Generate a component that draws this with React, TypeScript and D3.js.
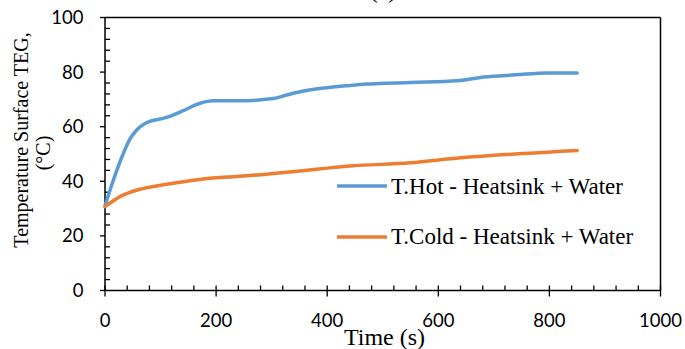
import React from "react";
import * as d3 from "d3";

const hotTime = [0, 15, 33, 45, 57, 72, 111, 141, 171, 195, 243, 303, 327, 351, 400, 441, 471, 550, 634, 682, 740, 796, 850];
const hotTemp = [31, 40.4, 50.2, 55.5, 58.8, 61.2, 63.4, 65.9, 68.6, 69.5, 69.5, 70.3, 71.6, 72.8, 74.3, 75.1, 75.6, 76.2, 76.8, 78.2, 79.0, 79.7, 79.7];
const coldTime = [0, 27, 63, 111, 171, 231, 291, 351, 441, 550, 640, 700, 850];
const coldTemp = [30.7, 34.4, 37.1, 38.9, 40.7, 41.7, 42.6, 43.8, 45.6, 46.8, 48.6, 49.5, 51.3];
const xTicks = [0, 200, 400, 600, 800, 1000];
const yTicks = [0, 20, 40, 60, 80, 100];
const seriesNames = ["T.Hot - Heatsink + Water", "T.Cold - Heatsink + Water"];
const colors = ["#5B9BD5", "#ED7D31"];

export default function App() {
  const W = 685, H = 349;
  const x = d3.scaleLinear().domain([0, 1000]).range([105, 660.5]);
  const y = d3.scaleLinear().domain([0, 100]).range([290.5, 17.5]);
  const line = d3
    .line<[number, number]>()
    .x((d) => x(d[0]))
    .y((d) => y(d[1]))
    .curve(d3.curveMonotoneX);
  const hot = line(hotTime.map((t, i) => [t, hotTemp[i]]));
  const cold = line(coldTime.map((t, i) => [t, coldTemp[i]]));
  const xMinor = d3.range(0, 1001, 40).filter((v) => v % 200 !== 0);
  const yMinor = d3.range(0, 101, 4).filter((v) => v % 20 !== 0);
  const serif = "'Liberation Serif', 'Times New Roman', serif";
  const sans = "Lato, 'Open Sans', sans-serif";
  return (
    <svg width={W} height={H} style={{ position: "absolute", left: 0, top: 0, background: "#fff" }}>
      <text x={383} y={-2} textAnchor="middle" fontFamily={serif} fontSize={24}>(a)</text>
      {/* frame */}
      <line x1={x(0)} x2={x(1000)} y1={y(100)} y2={y(100)} stroke="#000" strokeWidth={1.5} />
      <line x1={x(1000)} x2={x(1000)} y1={y(100)} y2={y(0)} stroke="#000" strokeWidth={1.5} />
      {/* axes */}
      <line x1={x(0)} x2={x(1000)} y1={y(0)} y2={y(0)} stroke="#000" strokeWidth={1.5} />
      <line x1={x(0)} x2={x(0)} y1={y(0)} y2={y(100)} stroke="#000" strokeWidth={1.5} />
      {xMinor.map((v) => (
        <line key={"xm" + v} x1={x(v)} x2={x(v)} y1={y(0)} y2={y(0) - 5} stroke="#000" strokeWidth={1.3} />
      ))}
      {xTicks.map((v) => (
        <line key={"xM" + v} x1={x(v)} x2={x(v)} y1={y(0) - 5} y2={y(0) + 6} stroke="#000" strokeWidth={1.3} />
      ))}
      {yMinor.map((v) => (
        <line key={"ym" + v} x1={x(0)} x2={x(0) + 5} y1={y(v)} y2={y(v)} stroke="#000" strokeWidth={1.3} />
      ))}
      {yTicks.map((v) => (
        <line key={"yM" + v} x1={x(0) - 5} x2={x(0)} y1={y(v)} y2={y(v)} stroke="#000" strokeWidth={1.3} />
      ))}
      {xTicks.map((v) => (
        <text key={"xl" + v} x={x(v)} y={327} textAnchor="middle" fontFamily={sans} fontSize={18.5}>{v}</text>
      ))}
      {yTicks.map((v) => (
        <text key={"yl" + v} x={83.5} y={y(v) + 6.5} textAnchor="end" fontFamily={sans} fontSize={18.5}>{v}</text>
      ))}
      {/* series */}
      <path d={hot ?? ""} fill="none" stroke={colors[0]} strokeWidth={3.5} strokeLinecap="round" />
      <path d={cold ?? ""} fill="none" stroke={colors[1]} strokeWidth={3.5} strokeLinecap="round" />
      {/* legend */}
      {seriesNames.map((n, i) => (
        <g key={n}>
          <line x1={337} x2={387} y1={186 + i * 51} y2={186 + i * 51} stroke={colors[i]} strokeWidth={3.5} />
          <text x={391} y={193.5 + i * 50} fontFamily={serif} fontSize={23}>{n}</text>
        </g>
      ))}
      {/* axis titles */}
      <text x={384.5} y={345} textAnchor="middle" fontFamily={serif} fontSize={24}>Time (s)</text>
      <text transform="translate(28,140) rotate(-90)" textAnchor="middle" fontFamily={serif} fontSize={20}>Temperature Surface TEG,</text>
      <text transform="translate(50,153) rotate(-90)" textAnchor="middle" fontFamily={serif} fontSize={20}>(°C)</text>
    </svg>
  );
}
